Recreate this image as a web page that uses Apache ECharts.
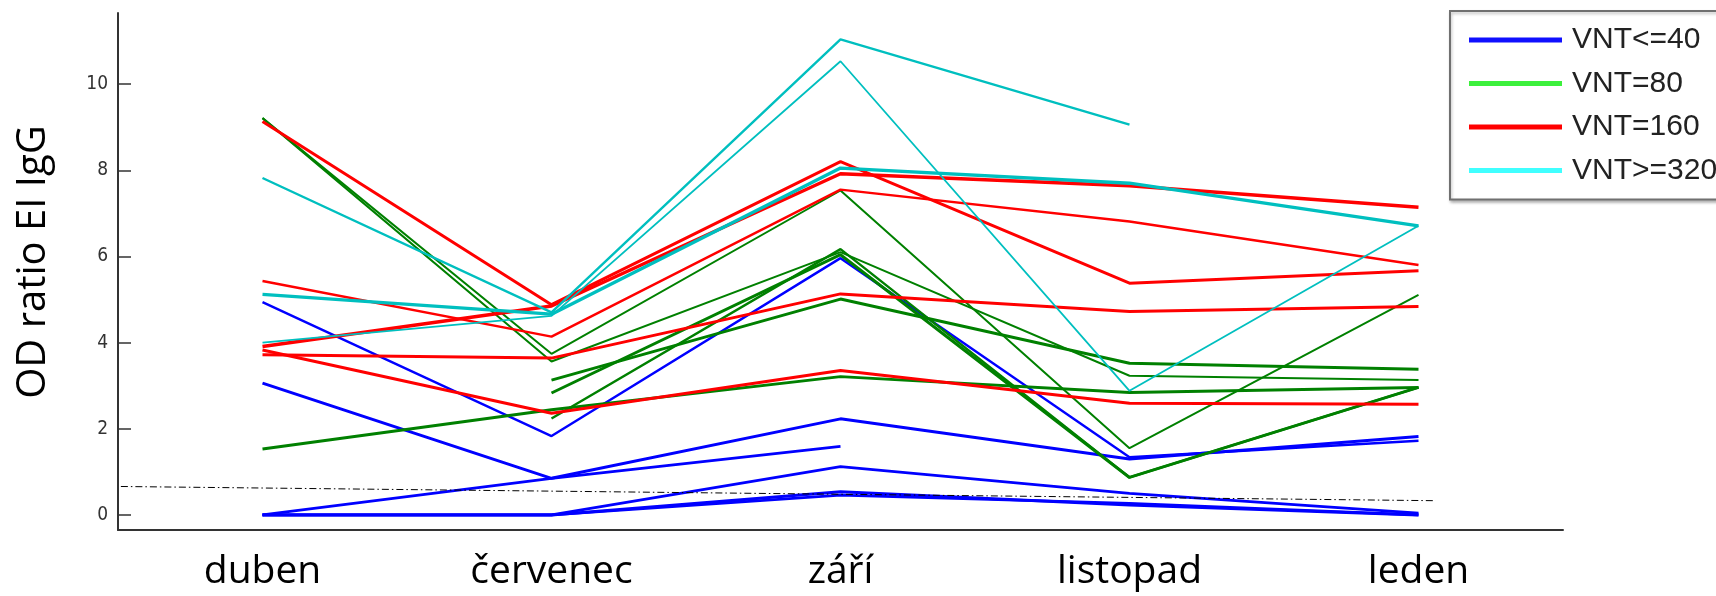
<!DOCTYPE html>
<html>
<head>
<meta charset="utf-8">
<title>OD ratio EI IgG</title>
<script src="https://cdn.jsdelivr.net/npm/echarts@6/dist/echarts.min.js"></script>
<style>
	html, body { margin: 0; padding: 0; background: #fff; }
	#main { width: 1716px; height: 596px; }
</style>
</head>
<body>
<div id="main"></div>
<script type="text/javascript">
// kategorie (měsíce) a popisky osy y
var months = ['duben', 'červenec', 'září', 'listopad', 'leden'];
var yTicks = [0, 2, 4, 6, 8, 10];
var groups = ['VNT<=40', 'VNT=80', 'VNT=160', 'VNT>=320'];

// VNT<=40 (modrá)
var blue1 = [4.94, 1.83, 5.96, 1.34, 1.72];
var blue2 = [3.06, 0.85, 2.23, 1.30, 1.82];
var blue3 = [0, 0.85, 1.59, null, null];
var blue4 = [0, 0, 1.12, 0.50, 0.04];
var blue5 = [0, 0, 0.54, 0.23, 0];
var blue6 = [0, 0, 0.46, 0.27, 0];

// VNT=80 (zelená)
var green1 = [9.21, 3.74, 7.53, 1.55, 5.11];
var green2 = [9.21, 3.56, 6.10, 3.23, 3.13];
var green3 = [null, 3.13, 5.01, 3.52, 3.38];
var green4 = [null, 2.83, 6.04, 0.87, 2.96];
var green5 = [null, 2.24, 6.17, 0.87, 2.96];
var green6 = [1.53, 2.44, 3.21, 2.84, 2.96];

// VNT=160 (červená)
var red1 = [9.13, 4.88, 8.20, 5.38, 5.67];
var red2 = [3.91, 4.85, 7.92, 7.64, 7.14];
var red3 = [5.43, 4.14, 7.55, 6.81, 5.80];
var red4 = [3.72, 3.64, 5.13, 4.72, 4.84];
var red5 = [3.83, 2.36, 3.35, 2.59, 2.57];

// VNT>=320 (tyrkysová)
var cyan1 = [7.82, 4.70, 11.04, 9.06, null];
var cyan2 = [4.00, 4.62, 10.53, 2.88, 6.71];
var cyan3 = [5.12, 4.66, 8.05, 7.70, 6.71];

// cut-off (čerchovaná čára), x v jednotkách kategorií
var cutoffX = [-0.49, 4.06];
var cutoffY = [0.66, 0.33];

var plotColors = ['#0000ff', '#008000', '#ff0000', '#00bfbf'];
var legendColors = ['#1010ff', '#3cf03c', '#ff0000', '#40ffff'];

function seria(data, color, width) {
	return {
		type: 'line',
		data: data,
		xAxisIndex: 0,
		yAxisIndex: 0,
		symbol: 'none',
		silent: true,
		connectNulls: false,
		lineStyle: { color: color, width: width },
		itemStyle: { color: color },
		animation: false
	};
}

var series = [];
// jen kvůli legendě (barvy jako v originálu)
groups.forEach(function (g, i) {
	series.push({
		name: g,
		type: 'line',
		data: [],
		symbol: 'none',
		itemStyle: { color: legendColors[i] },
		lineStyle: { color: legendColors[i] }
	});
});

series.push(seria(blue1, plotColors[0], 2.4));
series.push(seria(blue2, plotColors[0], 3));
series.push(seria(blue3, plotColors[0], 2.8));
series.push(seria(blue4, plotColors[0], 2.8));
series.push(seria(blue5, plotColors[0], 3));
series.push(seria(blue6, plotColors[0], 2.8));

series.push(seria(green1, plotColors[1], 2));
series.push(seria(green2, plotColors[1], 2));
series.push(seria(green3, plotColors[1], 3));
series.push(seria(green4, plotColors[1], 3));
series.push(seria(green5, plotColors[1], 2.4));
series.push(seria(green6, plotColors[1], 3));

series.push(seria(red1, plotColors[2], 3));
series.push(seria(red2, plotColors[2], 3.4));
series.push(seria(red3, plotColors[2], 2.4));
series.push(seria(red4, plotColors[2], 3));
series.push(seria(red5, plotColors[2], 3));

series.push(seria(cyan1, plotColors[3], 2.4));
series.push(seria(cyan2, plotColors[3], 1.8));
series.push(seria(cyan3, plotColors[3], 3.4));

series.push({
	type: 'line',
	xAxisIndex: 1,
	yAxisIndex: 0,
	symbol: 'none',
	silent: true,
	data: cutoffX.map(function (x, i) { return [x, cutoffY[i]]; }),
	lineStyle: { color: '#000', width: 1, type: [7, 3, 1.5, 3] },
	animation: false
});

var chart = echarts.init(document.getElementById('main'));
chart.setOption({
	backgroundColor: '#fff',
	animation: false,
	grid: { left: 118, right: 153, top: 13, bottom: 66 },
	xAxis: [{
		type: 'category',
		data: months,
		boundaryGap: true,
		axisLine: { onZero: false, lineStyle: { color: '#333', width: 2 } },
		axisTick: { inside: true, alignWithLabel: true, length: 15, lineStyle: { color: '#333', width: 1.5 } },
		axisLabel: { color: '#000', fontSize: 39, fontFamily: 'Open Sans', margin: 22 },
		splitLine: { show: false }
	}, {
		type: 'value',
		min: -0.5,
		max: 4.5,
		show: false
	}],
	yAxis: {
		type: 'value',
		min: -0.35,
		max: 11.65,
		axisLine: { show: true, onZero: false, lineStyle: { color: '#333', width: 2 } },
		axisTick: { show: true, inside: true, length: 13, customValues: yTicks, lineStyle: { color: '#333', width: 1.5 } },
		axisLabel: {
			customValues: yTicks,
			color: '#333',
			fontSize: 19,
			fontFamily: "'Liberation Sans Narrow', 'DejaVu Sans Condensed', 'Liberation Sans', sans-serif",
			margin: 10
		},
		splitLine: { show: false }
	},
	legend: {
		orient: 'vertical',
		left: 1450,
		top: 11,
		padding: [13, 40, 13, 19],
		itemWidth: 93,
		itemHeight: 5,
		itemGap: 11.5,
		icon: 'rect',
		selectedMode: false,
		data: groups,
		backgroundColor: '#fff',
		borderColor: '#707070',
		borderWidth: 2,
		shadowColor: 'rgba(0,0,0,0.25)',
		shadowBlur: 3,
		shadowOffsetX: 1,
		shadowOffsetY: 2,
		textStyle: { color: '#222', fontSize: 30, lineHeight: 32, fontFamily: "'Liberation Sans', Arial, sans-serif", padding: [0, 0, 0, 5] }
	},
	graphic: [{
		type: 'text',
		x: 34,
		y: 262,
		rotation: Math.PI / 2,
		style: {
			text: 'OD ratio EI IgG',
			fontSize: 40,
			fontFamily: 'Open Sans',
			fill: '#000',
			align: 'center',
			verticalAlign: 'middle'
		}
	}],
	series: series
});
</script>
</body>
</html>
